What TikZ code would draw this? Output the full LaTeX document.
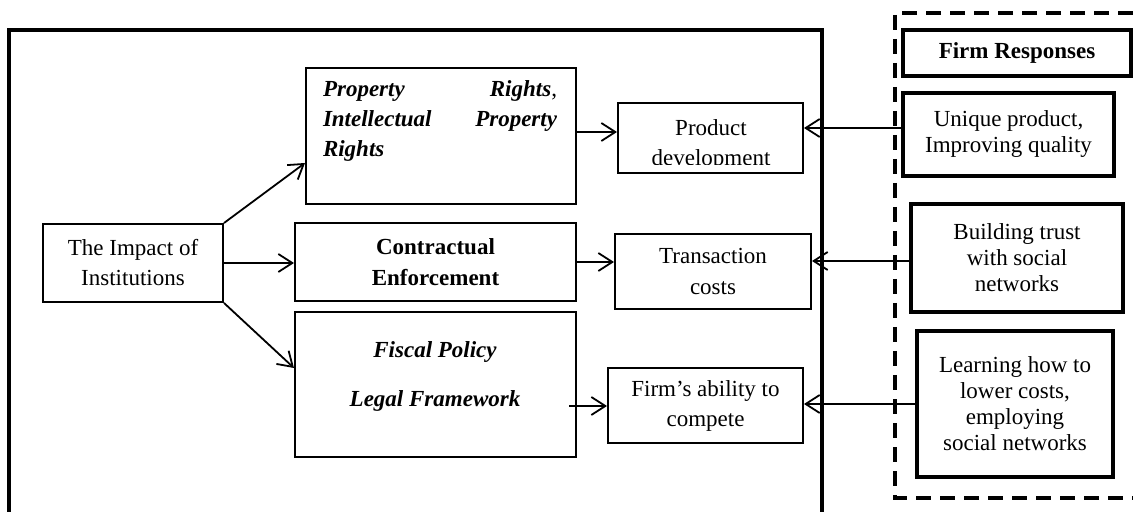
\documentclass[tikz,border=0pt]{standalone}
\usepackage{fontspec}
\setmainfont{Liberation Serif}
\usepackage{tikz}
\usetikzlibrary{arrows.meta}

\tikzset{
  inbox/.style={draw, line width=1pt, inner sep=0pt, align=center,
    font=\fontsize{11.5}{15}\selectfont},
  respbox/.style={draw, line width=2pt, inner sep=0pt, align=center,
    font=\fontsize{11.5}{13}\selectfont},
  arr/.style={-{Straight Barb[length=7pt,width=9pt]}, line width=0.9pt},
}

\begin{document}
\begin{tikzpicture}[x=0.5pt,y=-0.5pt]
  \useasboundingbox (0,0) rectangle (1133,512);

  % frames
  \draw[line width=1.6pt] (9,512) -- (9,30) -- (822,30) -- (822,512);
  \draw[line width=1.6pt, dash pattern=on 7.5pt off 4.5pt]
    (1133,13) -- (895,13) -- (895,498) -- (1133,498);

  % institutions
  \node[inbox, minimum width=90pt, minimum height=39pt] (impact) at (133,263)
    {The Impact of\\Institutions};
  \node[inbox, minimum width=135pt, minimum height=68pt] (prop) at (441,136) {};
  \node[inbox, text width=117pt, align=left, font=\fontsize{11.5}{15}\selectfont\bfseries\itshape,
    draw=none] (proptxt) at (440,121)
    {Property\hfill Rights\textnormal{,}\\Intellectual\hfill Property\\Rights};
  \node[inbox, minimum width=140.5pt, minimum height=39pt] (contr) at (435.5,262)
    {\textbf{Contractual}\\[0.5pt]\textbf{Enforcement}};
  \node[inbox, minimum width=140.5pt, minimum height=72.5pt] (fiscal) at (435.5,384.5) {};
  \node[inbox, draw=none, font=\fontsize{11.5}{15}\selectfont\bfseries\itshape] (fisctxt)
    at (435,376) {Fiscal Policy\\[9.5pt]Legal Framework};

  % outcomes
  \node[inbox, minimum width=92.5pt, minimum height=35pt] (prod) at (710.5,138) {};
  \begin{scope}
    \clip (618,100) rectangle (803,165);
    \node[inbox, draw=none] (prodtxt) at (711,145) {Product\\development};
  \end{scope}
  \node[inbox, minimum width=98pt, minimum height=37.5pt] (trans) at (713,271.5)
    {Transaction\\costs};
  \node[inbox, minimum width=97.5pt, minimum height=37.5pt] (abil) at (705.5,405.5)
    {Firm’s ability to\\compete};

  % firm responses
  \node[respbox, minimum width=114pt, minimum height=23pt] (firmresp) at (1017,53)
    {\textbf{Firm Responses}};
  \node[respbox, minimum width=105.5pt, minimum height=41.5pt] (unique) at (1008.5,134.5)
    {Unique product,\\Improving quality};
  \node[respbox, minimum width=106pt, minimum height=54pt] (trust) at (1017,258)
    {Building trust\\with social\\networks};
  \node[respbox, minimum width=98pt, minimum height=73pt] (learn) at (1015,404)
    {Learning how to\\lower costs,\\employing\\social networks};

  % arrows
  \draw[arr] (impact.north east) -- ([yshift=-13.5pt]prop.west);
  \draw[arr] (impact.east) -- (impact.east -| contr.west);
  \draw[arr] (impact.south east) -- ([yshift=8.25pt]fiscal.west);
  \draw[arr] (prop.east) ++(0,-4) coordinate (p1) -- (p1 -| prod.west);
  \draw[arr] (contr.east) -- (contr.east -| trans.west);
  \coordinate (f1) at (569,406);
  \draw[arr] (f1) -- (f1 -| abil.west);
  \draw[arr] (unique.west) ++(0,-6.5) coordinate (u1) -- (u1 -| prod.east);
  \draw[arr] (trust.west) ++(0,3) coordinate (t1) -- (t1 -| trans.east);
  \draw[arr] (learn.west) -- (learn.west -| abil.east);
\end{tikzpicture}
\end{document}
